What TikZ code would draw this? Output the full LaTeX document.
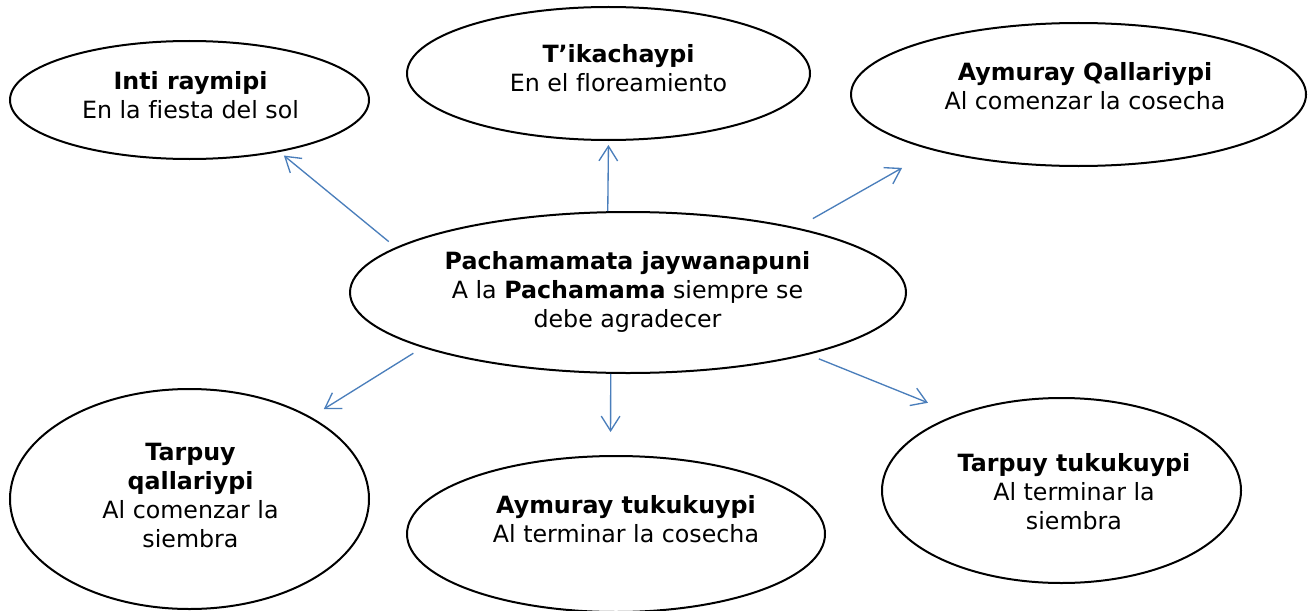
\documentclass[tikz,border=0pt]{standalone}
\usepackage{fontspec}
\setmainfont{DejaVu Sans}[Ligatures=NoCommon]
\usetikzlibrary{shapes.geometric,arrows.meta}
\definecolor{arrblue}{RGB}{74,126,187}
\newcommand{\tx}[1]{\begin{tabular}[t]{@{}c@{}}#1\end{tabular}}
\begin{document}
\begin{tikzpicture}[x=0.75pt,y=-0.75pt,
  ell/.style={ellipse,draw=black,line width=1.5pt,inner sep=0pt},
  lbl/.style={anchor=base,inner sep=0pt,font=\fontsize{17.8pt}{21.75pt}\selectfont},
  arr/.style={draw=arrblue,line width=1pt,-{Straight Barb[length=11pt,width=14pt]}}]
\useasboundingbox (0,0) rectangle (1309,610);

% ellipses
\node[ell,minimum width=269.25pt,minimum height=88.5pt]  (inti) at (189.5,100) {};
\node[ell,minimum width=302.25pt,minimum height=99.75pt] (tika) at (608.5,73.5) {};
\node[ell,minimum width=341.25pt,minimum height=107.25pt](aymq) at (1078.5,94.5) {};
\node[ell,minimum width=417pt,minimum height=120.75pt]   (c)    at (628,292.5) {};
\node[ell,minimum width=269.25pt,minimum height=165pt]   (tarq) at (189.5,499) {};
\node[ell,minimum width=313.5pt,minimum height=117pt]    (aymt) at (616,534) {};
\node[ell,minimum width=269.25pt,minimum height=138.75pt](tart) at (1061.5,490.5) {};

% texts
\node[lbl] (intit) at (190.5,89.3) {\tx{\textbf{Inti raymipi}\\En la fiesta del sol}};
\node[lbl] (tikat) at (618.5,62.7) {\tx{\textbf{T’ikachaypi}\\En el floreamiento}};
\node[lbl] (aymqt) at (1085,80) {\tx{\textbf{Aymuray Qallariypi}\\Al comenzar la cosecha}};
\node[lbl] (ct) at (627.5,269.3) {\tx{\textbf{Pachamamata jaywanapuni}\\A la \textbf{Pachamama} siempre se\\debe agradecer}};
\node[lbl] (tarqt) at (190.5,460.7) {\tx{\textbf{Tarpuy}\\\textbf{qallariypi}\\Al comenzar la\\siembra}};
\node[lbl] (aymtt) at (626,513.3) {\tx{\textbf{Aymuray tukukuypi}\\Al terminar la cosecha}};
\node[lbl] (tartt) at (1074,471) {\tx{\textbf{Tarpuy tukukuypi}\\Al terminar la\\siembra}};

% connectors
\draw[arr,shorten <=6.75pt,shorten >=4.2pt] (c.169.4) -- (inti.-30.2);
\draw[arr,shorten >=3pt] (c.104) -- (tika.-90);
\draw[arr,shorten <=13.7pt,shorten >=26.6pt] (c.21.3) -- (aymq.-159.1);
\draw[arr,shorten <=8pt,shorten >=11.25pt] (c.-165.4) -- (tarq.34.4);
\draw[arr,shorten >=17.25pt] (c.-102.6) -- (aymt.94.4);
\draw[arr,shorten <=8.4pt,shorten >=23.25pt] (c.-19.56) -- (tart.144.35);
\end{tikzpicture}
\end{document}
